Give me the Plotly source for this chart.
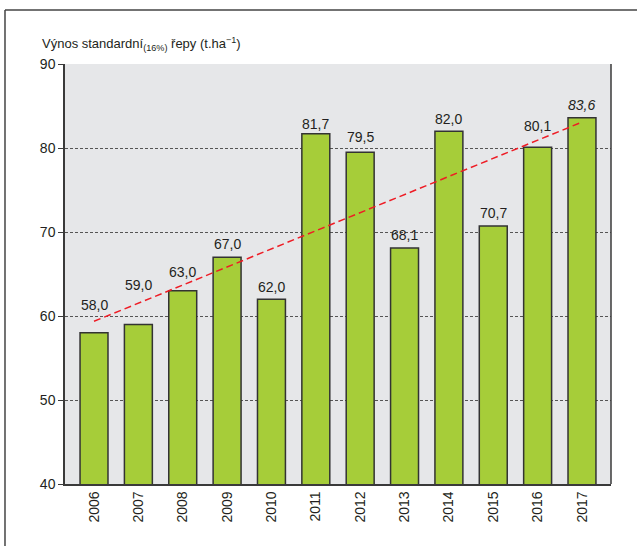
import numpy as np
import plotly.graph_objects as go

years = ["2006", "2007", "2008", "2009", "2010", "2011", "2012", "2013", "2014", "2015", "2016", "2017"]
yields = [58.0, 59.0, 63.0, 67.0, 62.0, 81.7, 79.5, 68.1, 82.0, 70.7, 80.1, 83.6]
y_ticks = [40, 50, 60, 70, 80, 90]

# vertical lift (px) of each value label so it clears the trend line
label_lift = [18, 29, 9, 3, 2, 0, 5, 3, 2, 3, 11, 3]

FONT = "Liberation Sans, Arial, Helvetica, sans-serif"
TEXT = "#231f20"

labels = [f"{v:.1f}".replace(".", ",") for v in yields]
labels[-1] = "<i>" + labels[-1] + "</i>"

# linear trend across the years
idx = np.arange(len(yields))
slope, intercept = np.polyfit(idx, yields, 1)
trend = [intercept + slope * i for i in (idx[0], idx[-1])]

fig = go.Figure()
fig.add_trace(go.Bar(
    x=years, y=yields,
    marker=dict(color="#a6cd39", line=dict(color="#333333", width=1.5)),
    width=0.63,
))
fig.add_trace(go.Scatter(
    x=[years[0], years[-1]], y=trend, mode="lines",
    line=dict(color="#ee1c25", width=1.5, dash="7px,4px"),
))

# value labels, positioned by category index on the category axis
annotations = [dict(
    x=i, y=val, text=lab, showarrow=False, xanchor="center", yanchor="bottom",
    yshift=lift, font=dict(family=FONT, size=14, color=TEXT),
) for i, (val, lab, lift) in enumerate(zip(yields, labels, label_lift))]

annotations.append(dict(
    xref="paper", yref="paper", x=-0.046, y=1.0, yshift=9,
    xanchor="left", yanchor="bottom", showarrow=False,
    text="Výnos standardní<sub>(16%)</sub> řepy (t.ha<sup>−1</sup>)",
    font=dict(family=FONT, size=13, color=TEXT),
))

fig.update_layout(
    width=642, height=546,
    margin=dict(l=65, r=31, t=64, b=62),
    paper_bgcolor="white", plot_bgcolor="#e6e7e9",
    showlegend=False,
    font=dict(family=FONT, size=14, color=TEXT),
    xaxis=dict(
        type="category", range=[-0.654, 11.654],
        tickangle=-90, showgrid=False, ticks="",
        showline=True, linecolor="#3a3a3a", linewidth=1.5,
        tickfont=dict(size=14),
    ),
    yaxis=dict(
        range=[40, 90], tickvals=y_ticks, ticks="outside", ticklen=5,
        tickcolor="#3a3a3a", showgrid=True, gridcolor="#555555",
        griddash="3px,2px", gridwidth=1,
        showline=True, linecolor="#3a3a3a", linewidth=1.5,
        zeroline=False, tickfont=dict(size=14),
    ),
    annotations=annotations,
    shapes=[
        # right edge of the plot area
        dict(type="line", xref="paper", yref="paper", x0=1, x1=1, y0=0, y1=1,
             line=dict(color="#3a3a3a", width=1.5)),
        # outer frame
        dict(type="line", xref="paper", yref="paper", x0=-0.1099, x1=1.0476, y0=1.1286, y1=1.1286,
             line=dict(color="#444444", width=1.5)),
        dict(type="line", xref="paper", yref="paper", x0=-0.1099, x1=-0.1099, y0=-0.16, y1=1.1286,
             line=dict(color="#444444", width=1.5)),
    ],
)

fig.write_html("out.html")
